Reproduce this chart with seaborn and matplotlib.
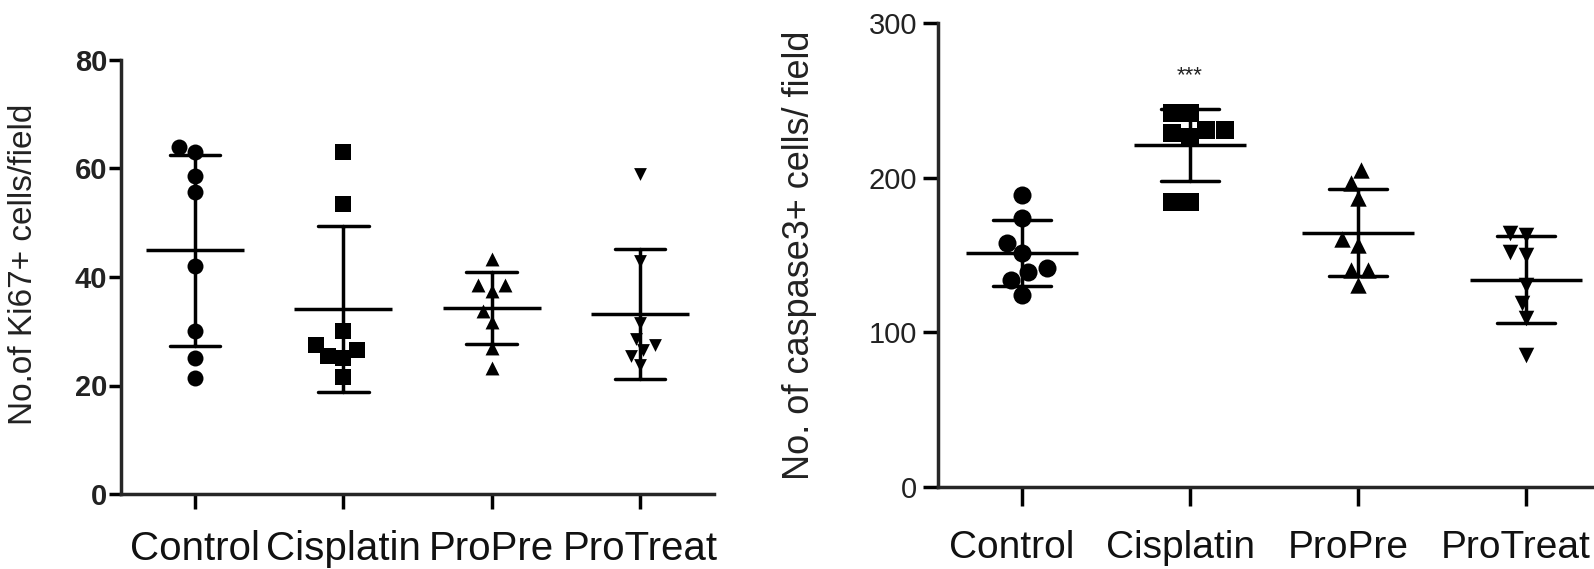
import matplotlib
matplotlib.use("Agg")
import matplotlib.pyplot as plt
import matplotlib.transforms as mtransforms
import seaborn as sns
import pandas as pd

categories = ["Control", "Cisplatin", "ProPre", "ProTreat"]
markers = ["o", "s", "^", "v"]

ki67_control = [64, 63, 58.6, 55.6, 42, 30, 25, 21.3]
ki67_cisplatin = [63, 53.5, 30, 27.5, 26.5, 25.5, 25, 21.5]
ki67_propre = [43.3, 38.5, 38.5, 37.5, 33.8, 31.7, 27, 23.3]
ki67_protreat = [59, 43, 31.5, 28.5, 27.5, 26.5, 25.5, 23.8]

casp_control = [188.8, 173.7, 157.9, 151, 141.3, 139.2, 133.8, 124.1]
casp_cisplatin = [241.5, 241.5, 230.8, 230.8, 228.6, 226, 184.4, 184.4]
casp_propre = [204.9, 196.3, 186.6, 160.1, 156.4, 140.3, 140.3, 130.6]
casp_protreat = [164, 162.9, 152.1, 150, 130.6, 118.7, 109, 85.3]

ki67_yticks = [0, 20, 40, 60, 80]
casp_yticks = [0, 100, 200, 300]
ki67_ylabel = "No.of Ki67+ cells/field"
casp_ylabel = "No. of caspase3+ cells/ field"
signif_text = "***"
signif_y = 266


def frame(groups):
    rows = []
    for cat, vals in zip(categories, groups):
        for v in vals:
            rows.append({"group": cat, "value": v})
    return pd.DataFrame(rows)


df_ki = frame([ki67_control, ki67_cisplatin, ki67_propre, ki67_protreat])
df_ca = frame([casp_control, casp_cisplatin, casp_propre, casp_protreat])

sns.set_style("ticks")
plt.rcParams["font.family"] = ["Liberation Sans", "DejaVu Sans"]

fig = plt.figure(figsize=(15.94, 5.69), dpi=100)
W, H = 1594, 569

ax1 = fig.add_axes([121 / W, 1 - 494 / H, 593 / W, 434 / H])
ax2 = fig.add_axes([938 / W, 1 - 487 / H, 672 / W, 464 / H])

lw = 2.5


def panel(ax, df, sizes, mean_size, ylim, yticks, ylabel, ylabel_size, bold,
          xtick_len, ytick_len, ypad, xlabsize, xpad, label_xy):
    for cat, m, s in zip(categories, markers, sizes):
        sub = df[df["group"] == cat]
        sns.swarmplot(data=sub, x="group", y="value", order=categories, marker=m,
                      size=s, color="black", linewidth=0, ax=ax, warn_thresh=1)
    sns.pointplot(data=df, x="group", y="value", order=categories, errorbar="sd",
                  capsize=0.34, color="black", linestyle="none", marker="_",
                  markersize=mean_size, markeredgewidth=lw,
                  err_kws={"linewidth": lw}, ax=ax)
    ax.set_xlim(-0.5, 3.5)
    ax.set_ylim(*ylim)
    ax.set_yticks(yticks)
    ax.set_xlabel("")
    ax.set_ylabel(ylabel, fontsize=ylabel_size, color="#222222")
    ax.yaxis.set_label_coords(*label_xy)
    for sp in ["top", "right"]:
        ax.spines[sp].set_visible(False)
    for sp in ["left", "bottom"]:
        ax.spines[sp].set_linewidth(lw)
        ax.spines[sp].set_clip_on(False)
    ax.tick_params(axis="x", length=xtick_len, width=lw, labelsize=xlabsize,
                   pad=xpad, colors="black")
    ax.tick_params(axis="y", length=ytick_len, width=lw, labelsize=21,
                   pad=ypad, colors="black")
    for t in ax.get_yticklabels():
        t.set_fontweight("bold" if bold else "normal")
        t.set_color("#222222")
    for t in ax.get_xticklabels():
        t.set_color("#111111")


panel(ax1, df_ki, [11.5, 11, 10, 9.2], 70, (0, 80), ki67_yticks, ki67_ylabel, 24, True,
      11, 9, 1, 29, 15, (-0.138, 0.53))
panel(ax2, df_ca, [13, 12.5, 11.8, 11.2], 80, (0, 300), casp_yticks, casp_ylabel, 26, False,
      14, 11, 4, 28, 17, (-0.18, 0.50))

# right-panel category labels sit slightly left of their ticks in the reference
shift = mtransforms.ScaledTranslation(-10 / 100, 0, fig.dpi_scale_trans)
for t in ax2.get_xticklabels():
    t.set_transform(t.get_transform() + shift)

ax2.text(1, signif_y, signif_text, ha="center", va="center", fontsize=16,
         color="#222222")

fig.savefig("out.png", dpi=100)
